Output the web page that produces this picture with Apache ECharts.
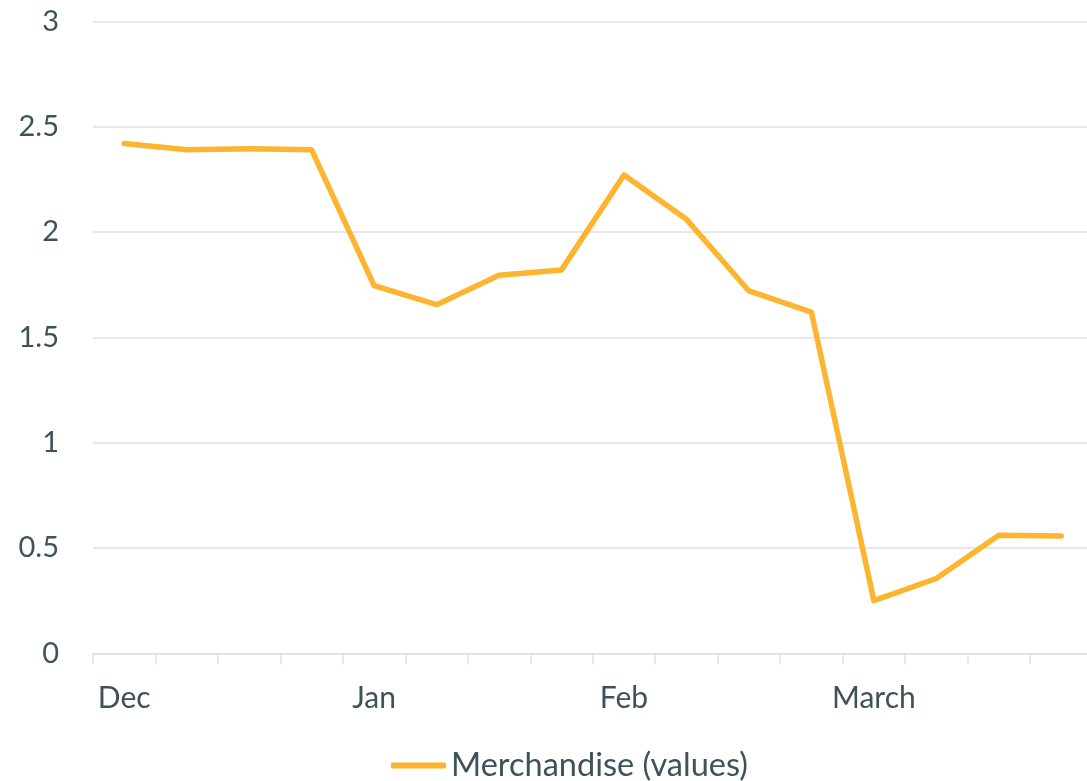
<!DOCTYPE html>
<html>
<head>
<meta charset="utf-8">
<script src="https://cdn.jsdelivr.net/npm/echarts@6/dist/echarts.min.js"></script>
<style>
  html, body { margin: 0; padding: 0; background: #fff; }
  #main { width: 1087px; height: 781px; }
</style>
</head>
<body>
<div id="main"></div>
<script>
// weekly points, Dec to March
let weeks = ['Dec w1', 'Dec w2', 'Dec w3', 'Dec w4', 'Jan w1', 'Jan w2', 'Jan w3', 'Jan w4',
    'Feb w1', 'Feb w2', 'Feb w3', 'Feb w4', 'Mar w1', 'Mar w2', 'Mar w3', 'Mar w4'];
let weekLabels = ['Dec', '', '', '', 'Jan', '', '', '', 'Feb', '', '', '', 'March', '', '', ''];
let merchandise = [2.42, 2.39, 2.395, 2.39, 1.745, 1.655, 1.795, 1.82,
    2.27, 2.06, 1.72, 1.62, 0.25, 0.355, 0.56, 0.557];

let textColor = '#3e525a';
let myChart = echarts.init(document.getElementById('main'));

let options = {
    animation: false,
    textStyle: { fontFamily: 'Lato' },
    grid: {
        left: 93,
        top: 21.3,
        width: 999.5,
        bottom: 127.7,
        outerBoundsMode: 'none'
    },
    legend: {
        data: ['Merchandise (values)'],
        left: 386,
        top: 744,
        icon: 'roundRect',
        itemWidth: 55,
        itemHeight: 6,
        textStyle: { color: textColor, fontSize: 32.5, fontFamily: 'Lato' }
    },
    xAxis: {
        type: 'category',
        data: weeks,
        axisLine: { show: true, lineStyle: { color: '#dde2e5', width: 1.5 } },
        axisTick: { show: true, interval: 0, length: 11, lineStyle: { color: '#dde2e5', width: 1.5 } },
        axisLabel: {
            interval: 0,
            margin: 30,
            color: textColor,
            fontSize: 30,
            fontFamily: 'Lato',
            formatter: function (v, i) { return weekLabels[i]; }
        }
    },
    yAxis: {
        type: 'value',
        min: 0,
        max: 3,
        interval: 0.5,
        axisLine: { show: false },
        axisTick: { show: false },
        axisLabel: { color: textColor, fontSize: 29, fontFamily: 'Lato', margin: 34 },
        splitLine: { lineStyle: { color: '#dde2e5', width: 1.5 } }
    },
    series: [
        {
            name: 'Merchandise (values)',
            type: 'line',
            data: merchandise,
            showSymbol: false,
            symbol: 'none',
            itemStyle: { color: '#fdb42e' },
            lineStyle: { color: '#fdb42e', width: 5.5, cap: 'round', join: 'round' }
        }
    ]
};
myChart.setOption(options);
</script>
</body>
</html>
